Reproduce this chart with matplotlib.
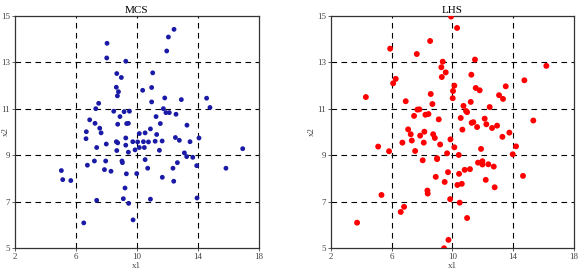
import numpy as np
import matplotlib
matplotlib.use("Agg")
from matplotlib import pyplot as plt

plt.rcParams['font.family'] = ['Liberation Serif', 'DejaVu Serif']

# MCS samples (x1, x2)
mcs_x1 = [12.44, 12.07, 11.96, 8.04, 8.02, 9.27, 11.04, 8.68, 8.98, 8.65,
          8.79, 8.72, 10.38, 10.97, 10.97, 11.83, 12.92, 14.58, 14.80, 7.49,
          7.30, 8.48, 9.16, 9.51, 8.89, 11.26, 11.74, 11.91, 12.13, 12.57,
          6.90, 7.25, 8.74, 9.33, 9.44, 7.56, 7.65, 6.68, 6.66, 10.16,
          10.54, 10.89, 11.54, 11.30, 13.29, 12.53, 12.79, 13.49, 14.08, 7.36,
          7.99, 8.65, 8.74, 9.27, 9.27, 9.44, 8.68, 9.73, 9.88, 10.05,
          10.16, 10.43, 10.49, 10.76, 11.20, 11.66, 11.48, 13.12, 13.27, 13.67,
          16.95, 6.75, 7.21, 7.95, 9.02, 9.05, 7.87, 8.30, 10.54, 10.71,
          12.66, 12.37, 13.93, 15.85, 5.04, 5.13, 5.66, 9.31, 9.99, 11.67,
          12.42, 9.22, 7.36, 9.11, 9.46, 10.89, 13.95, 6.51, 9.75]
mcs_x2 = [14.41, 14.08, 13.48, 13.81, 13.18, 13.04, 12.54, 12.51, 12.34, 11.92,
          11.73, 11.55, 11.79, 11.91, 11.29, 11.46, 11.39, 11.45, 11.05, 11.23,
          11.00, 10.89, 10.87, 10.89, 10.66, 10.66, 11.00, 10.83, 10.83, 10.76,
          10.52, 10.37, 10.33, 10.36, 10.37, 10.16, 9.96, 10.01, 9.71, 9.93,
          9.96, 10.13, 10.36, 9.89, 10.29, 9.76, 9.64, 9.58, 9.74, 9.33,
          9.48, 9.58, 9.53, 9.74, 9.43, 9.13, 9.20, 9.58, 9.23, 9.57,
          9.33, 9.58, 9.33, 9.57, 9.60, 9.61, 9.21, 9.10, 8.94, 8.91,
          9.28, 8.57, 8.75, 8.75, 8.75, 8.68, 8.38, 8.31, 8.81, 8.44,
          8.68, 8.44, 8.55, 8.44, 8.34, 7.95, 7.91, 8.20, 8.21, 8.05,
          7.88, 7.59, 7.06, 7.13, 6.93, 7.11, 7.16, 6.09, 6.22]

# LHS samples (x1, x2)
lhs_x1 = [9.91, 10.31, 8.53, 5.89, 7.65, 11.49, 9.36, 9.27, 9.56, 9.30,
          11.25, 16.20, 14.75, 6.26, 6.09, 10.13, 10.04, 11.54, 11.80, 13.52,
          13.08, 13.34, 4.29, 8.57, 10.02, 6.92, 8.68, 11.21, 10.73, 12.46,
          7.69, 7.82, 10.90, 10.97, 8.22, 8.42, 7.47, 9.10, 10.55, 12.13,
          12.24, 11.27, 11.38, 11.63, 12.62, 12.95, 15.34, 7.08, 7.25, 7.32,
          7.87, 8.15, 8.11, 8.73, 8.84, 10.66, 9.87, 9.19, 6.70, 5.10,
          5.82, 7.54, 10.13, 9.65, 10.42, 13.30, 13.76, 14.20, 13.98, 11.89,
          8.99, 8.99, 8.04, 11.69, 11.98, 11.98, 12.37, 12.73, 9.71, 10.44,
          10.81, 11.16, 8.90, 9.49, 10.33, 10.62, 12.20, 12.79, 14.66, 8.35,
          8.37, 5.32, 9.85, 10.48, 6.81, 6.59, 10.97, 3.71, 9.74, 9.45]
lhs_x2 = [14.96, 14.47, 13.91, 13.58, 13.35, 13.11, 13.02, 12.78, 12.56, 12.36,
          12.46, 12.84, 12.22, 12.28, 12.09, 11.99, 11.76, 11.89, 11.79, 11.96,
          11.58, 11.42, 11.50, 11.63, 11.45, 11.32, 11.20, 11.29, 11.12, 11.07,
          10.96, 10.97, 10.90, 10.85, 10.74, 10.77, 10.69, 10.54, 10.60, 10.57,
          10.33, 10.39, 10.42, 10.21, 10.17, 10.27, 10.49, 10.11, 9.90, 9.63,
          9.84, 10.01, 9.54, 9.90, 9.74, 10.10, 9.68, 9.46, 9.54, 9.37,
          9.17, 9.18, 9.34, 9.08, 9.01, 9.79, 9.97, 9.38, 9.04, 9.27,
          8.87, 8.83, 8.78, 8.68, 8.74, 8.60, 8.61, 8.51, 8.27, 8.20,
          8.37, 8.40, 8.07, 7.85, 7.72, 7.77, 7.94, 7.62, 8.11, 7.48,
          7.35, 7.29, 7.11, 6.96, 6.78, 6.56, 6.30, 6.10, 5.36, 5.00]

xticks = [2, 6, 10, 14, 18]
yticks = [5, 7, 9, 11, 13, 15]

fig = plt.figure(figsize=(5.8, 2.74), dpi=100)
ax1 = fig.add_axes([0.026, 0.094, 0.420, 0.849])
ax2 = fig.add_axes([0.571, 0.094, 0.418, 0.849])


def setup(ax, title):
    ax.set_xlim(2, 18)
    ax.set_ylim(5, 15)
    ax.set_xticks(xticks)
    ax.set_yticks(yticks)
    ax.tick_params(labelsize=6.5, colors='#444444', length=2, width=0.6, pad=1.5)
    for v in xticks[1:-1]:
        ax.axvline(v, color='k', ls=(0, (5, 4)), lw=0.8, zorder=1)
    for v in yticks[1:-1]:
        ax.axhline(v, color='k', ls=(0, (5, 4)), lw=0.8, zorder=1)
    for s in ax.spines.values():
        s.set_color('#333333')
        s.set_linewidth(0.9)
    ax.set_title(title, fontsize=8, pad=2)
    ax.set_xlabel('x1', fontsize=6.5, color='#444444', labelpad=1)
    ax.set_ylabel('x2', fontsize=6.5, color='#444444', labelpad=1)


ax1.scatter(mcs_x1, mcs_x2, s=12, color='#1a1aa6', edgecolors='none', zorder=3)
setup(ax1, 'MCS')
# left label sits right at the figure edge, keep it inside
ax1.yaxis.set_label_coords(-0.02, 0.5)
ax2.scatter(lhs_x1, lhs_x2, s=18, color='#ff0000', edgecolors='none', zorder=3)
setup(ax2, 'LHS')

fig.savefig('out.png', dpi=100)
